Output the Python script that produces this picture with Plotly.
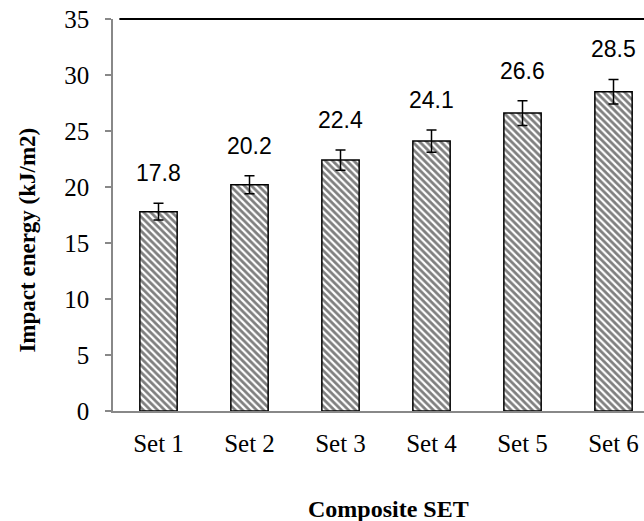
import plotly.graph_objects as go

# data
sets = ["Set 1", "Set 2", "Set 3", "Set 4", "Set 5", "Set 6"]
impact = [17.8, 20.2, 22.4, 24.1, 26.6, 28.5]
errors = [0.75, 0.8, 0.9, 1.0, 1.1, 1.1]
labels = ["17.8", "20.2", "22.4", "24.1", "26.6", "28.5"]

serif = "Liberation Serif, Times New Roman, serif"

fig = go.Figure()
fig.add_trace(go.Bar(
    x=list(range(len(sets))),
    y=impact,
    width=0.41,
    marker=dict(
        color="white",
        line=dict(color="black", width=1.5),
        pattern=dict(shape="\\", fgcolor="black", bgcolor="white",
                     size=5, solidity=0.55),
    ),
    error_y=dict(type="data", array=errors, color="black",
                 thickness=1.5, width=5),
    showlegend=False,
))

# value labels sit just above the error bar caps
for i, (v, e, t) in enumerate(zip(impact, errors, labels)):
    fig.add_annotation(x=i, y=v + e, text=t, showarrow=False,
                       yanchor="bottom", yshift=15,
                       font=dict(family="Liberation Sans, Arial, sans-serif",
                                 size=23, color="black"))

# axis titles
fig.add_annotation(text="<b>Composite SET</b>", xref="paper", yref="paper",
                   x=0.518, y=0, xanchor="center", yanchor="middle",
                   yshift=-98, showarrow=False,
                   font=dict(family=serif, size=24, color="black"))
fig.add_annotation(text="<b>Impact energy (kJ/m2)</b>", xref="paper",
                   yref="paper", x=0, xshift=-85.5, y=0.436,
                   xanchor="center", yanchor="middle",
                   textangle=-90, showarrow=False,
                   font=dict(family=serif, size=23, color="black"))

# black frame line along the top of the plot
fig.add_shape(type="line", xref="paper", yref="paper",
              x0=0.012, x1=1, y0=1, y1=1,
              line=dict(color="black", width=2))

fig.update_layout(
    width=644, height=521,
    margin=dict(l=113, r=0, t=19, b=110),
    plot_bgcolor="white", paper_bgcolor="white",
)
fig.update_xaxes(
    range=[-0.5, 5.335], automargin=False,
    tickmode="array", tickvals=list(range(len(sets))), ticktext=sets,
    tickfont=dict(family=serif, size=25, color="black"),
    ticklabelstandoff=9, ticklabeloverflow="allow",
    showline=True, linecolor="#888888", linewidth=1.5,
    ticks="", showgrid=False, zeroline=False,
)
fig.update_yaxes(
    range=[0, 35], dtick=5, automargin=False,
    tickfont=dict(family=serif, size=25, color="black"),
    ticklabelstandoff=11, ticklabeloverflow="allow",
    showline=True, linecolor="#888888", linewidth=1.5,
    ticks="outside", ticklen=6, tickcolor="#888888", tickwidth=1.5,
    showgrid=False, zeroline=False,
)

# drop the default body margin so the figure fills the window exactly
fig.write_html("out.html",
               config={"displayModeBar": False},
               post_script="document.body.style.margin='0';"
                           "document.body.style.overflow='hidden';")
